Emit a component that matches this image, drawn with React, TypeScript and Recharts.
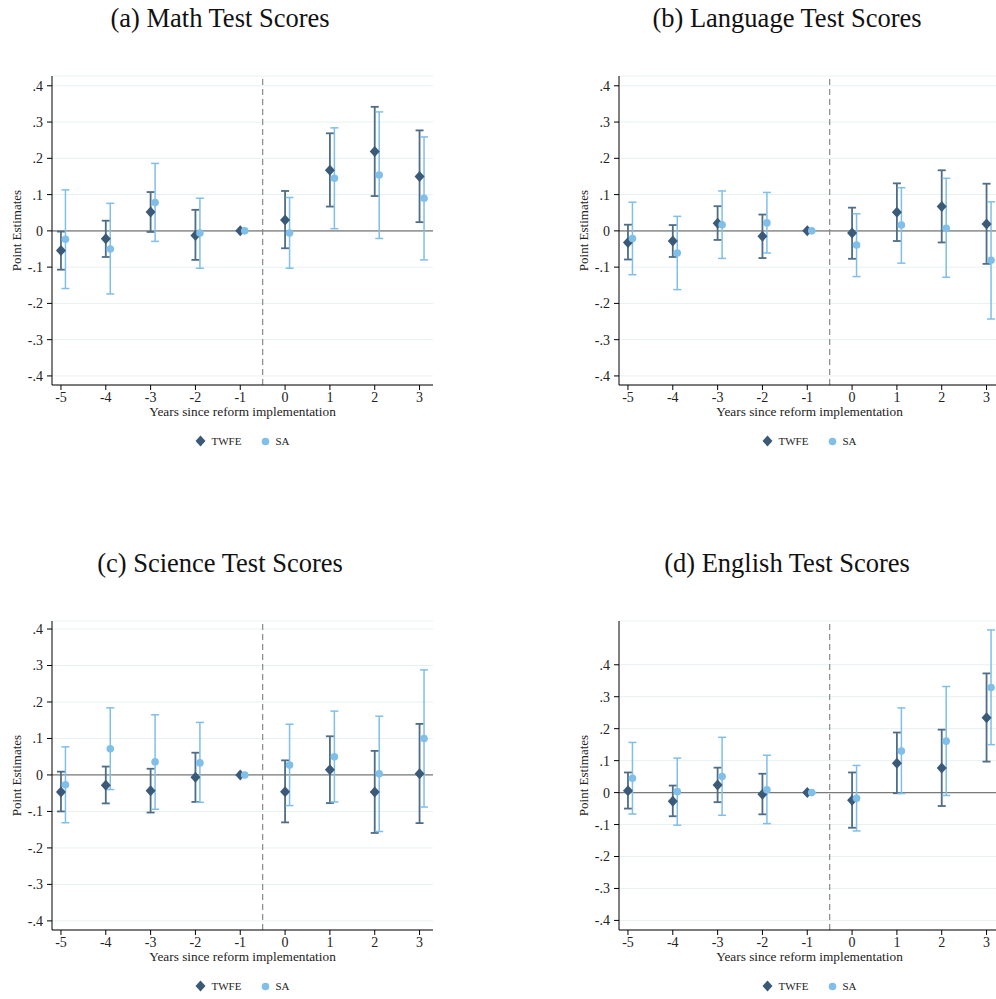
import React from "react";
import {
  ComposedChart,
  Scatter,
  ErrorBar,
  XAxis,
  YAxis,
  CartesianGrid,
  ReferenceLine,
  Legend,
} from "recharts";

// event-time years
const years = [-5, -4, -3, -2, -1, 0, 1, 2, 3];
const yTicks = [-0.4, -0.3, -0.2, -0.1, 0, 0.1, 0.2, 0.3, 0.4];

// (a) math
const mathTwfe = [-0.054, -0.022, 0.052, -0.013, 0, 0.03, 0.167, 0.219, 0.15];
const mathTwfeLo = [-0.107, -0.072, -0.003, -0.08, 0, -0.048, 0.067, 0.096, 0.024];
const mathTwfeHi = [-0.002, 0.028, 0.107, 0.058, 0, 0.11, 0.269, 0.342, 0.277];
const mathSa = [-0.023, -0.05, 0.078, -0.006, 0, -0.006, 0.145, 0.154, 0.09];
const mathSaLo = [-0.159, -0.174, -0.029, -0.103, 0, -0.103, 0.006, -0.021, -0.08];
const mathSaHi = [0.113, 0.076, 0.186, 0.09, 0, 0.092, 0.284, 0.328, 0.259];

// (b) language
const langTwfe = [-0.032, -0.028, 0.021, -0.015, 0, -0.006, 0.051, 0.067, 0.019];
const langTwfeLo = [-0.079, -0.072, -0.025, -0.075, 0, -0.077, -0.028, -0.032, -0.091];
const langTwfeHi = [0.017, 0.016, 0.068, 0.045, 0, 0.064, 0.131, 0.167, 0.13];
const langSa = [-0.021, -0.061, 0.017, 0.022, 0, -0.039, 0.016, 0.007, -0.081];
const langSaLo = [-0.121, -0.162, -0.076, -0.061, 0, -0.126, -0.089, -0.128, -0.243];
const langSaHi = [0.079, 0.04, 0.11, 0.106, 0, 0.047, 0.119, 0.145, 0.08];

// (c) science
const sciTwfe = [-0.047, -0.028, -0.043, -0.006, 0, -0.046, 0.014, -0.047, 0.003];
const sciTwfeLo = [-0.1, -0.078, -0.103, -0.074, 0, -0.13, -0.077, -0.159, -0.132];
const sciTwfeHi = [0.009, 0.023, 0.017, 0.061, 0, 0.04, 0.106, 0.066, 0.14];
const sciSa = [-0.027, 0.072, 0.036, 0.033, 0, 0.027, 0.05, 0.003, 0.1];
const sciSaLo = [-0.131, -0.04, -0.094, -0.075, 0, -0.084, -0.074, -0.155, -0.088];
const sciSaHi = [0.077, 0.184, 0.165, 0.144, 0, 0.139, 0.175, 0.161, 0.288];

// (d) english
const engTwfe = [0.006, -0.027, 0.024, -0.005, 0, -0.024, 0.092, 0.077, 0.234];
const engTwfeLo = [-0.05, -0.074, -0.03, -0.068, 0, -0.11, -0.002, -0.042, 0.097];
const engTwfeHi = [0.063, 0.022, 0.078, 0.059, 0, 0.063, 0.188, 0.197, 0.373];
const engSa = [0.045, 0.003, 0.05, 0.009, 0, -0.018, 0.13, 0.161, 0.329];
const engSaLo = [-0.067, -0.102, -0.071, -0.097, 0, -0.12, -0.003, -0.009, 0.15];
const engSaHi = [0.157, 0.108, 0.173, 0.117, 0, 0.085, 0.265, 0.332, 0.509];

const TWFE = "#3a5a78";
const TWFE_CI = "#4f6d86";
const SA = "#7fbfe9";
const FONT = '"Liberation Serif", "Times New Roman", serif';

const toRows = (est: number[], lo: number[], hi: number[], shift: number) =>
  years.map((yr, i) => ({
    x: yr + shift,
    y: est[i],
    err: [est[i] - lo[i], hi[i] - est[i]],
  }));

const Diamond = (props: any) => {
  const { cx, cy } = props;
  if (cx == null || cy == null) return null;
  return (
    <path
      d={`M${cx},${cy - 5.5} L${cx + 5},${cy} L${cx},${cy + 5.5} L${cx - 5},${cy} Z`}
      fill={TWFE}
    />
  );
};

const Dot = (props: any) => {
  const { cx, cy } = props;
  if (cx == null || cy == null) return null;
  return <circle cx={cx} cy={cy} r={3.8} fill={SA} />;
};

const fmtY = (v: number) => {
  if (Math.abs(v) < 1e-9) return "0";
  const s = v.toFixed(1);
  return s.replace("0.", ".");
};

const YLabel = (props: any) => {
  const vb = props.viewBox || {};
  const cx = 16;
  const cy = vb.y + vb.height / 2;
  return (
    <text
      x={cx}
      y={cy}
      transform={`rotate(-90 ${cx} ${cy})`}
      textAnchor="middle"
      dominantBaseline="central"
      fontSize={13}
      fontFamily={FONT}
      fill="#222"
    >
      Point Estimates
    </text>
  );
};

const LegendBox = () => (
  <div
    style={{
      display: "flex",
      justifyContent: "center",
      alignItems: "center",
      fontFamily: FONT,
      fontSize: 11,
      color: "#222",
    }}
  >
    <svg width={11} height={12} style={{ marginRight: 5 }}>
      <path d="M5.5,0.5 L10.5,6 L5.5,11.5 L0.5,6 Z" fill={TWFE} />
    </svg>
    <span style={{ marginRight: 20 }}>TWFE</span>
    <svg width={9} height={9} style={{ marginRight: 5 }}>
      <circle cx={4.5} cy={4.5} r={3.8} fill={SA} />
    </svg>
    <span>SA</span>
  </div>
);

interface PanelProps {
  title: string;
  left: number;
  top: number;
  twfe: number[];
  twfeLo: number[];
  twfeHi: number[];
  sa: number[];
  saLo: number[];
  saHi: number[];
  yDomain: [number, number];
  zeroColor: string;
  zeroWidth: number;
}

function Panel(p: PanelProps) {
  const twfeRows = toRows(p.twfe, p.twfeLo, p.twfeHi, 0);
  const saRows = toRows(p.sa, p.saLo, p.saHi, 0.1);
  return (
    <div style={{ position: "absolute", left: p.left, top: p.top, width: 440, height: 460 }}>
      <div
        style={{
          position: "absolute",
          left: 0,
          top: 2,
          width: 440,
          textAlign: "center",
          fontFamily: FONT,
          fontSize: 26.5,
          lineHeight: "32px",
          color: "#111",
        }}
      >
        {p.title}
      </div>
      <ComposedChart
        width={440}
        height={460}
        margin={{ top: 76, right: 7, left: 0, bottom: 0 }}
        style={{ position: "absolute", left: 0, top: 0 }}
      >
        <CartesianGrid vertical={false} stroke="#e8f0f2" strokeWidth={1} />
        <XAxis
          type="number"
          dataKey="x"
          domain={[-5.2, 3.3]}
          ticks={years}
          allowDataOverflow
          height={75}
          axisLine={{ stroke: "#000", strokeWidth: 1 }}
          tickLine={{ stroke: "#000" }}
          tickSize={5}
          tickMargin={2}
          tick={{ fontSize: 14, fontFamily: FONT, fill: "#222" }}
          label={{
            value: "Years since reform implementation",
            position: "insideTop",
            offset: 22,
            fontSize: 13.3,
            fontFamily: FONT,
            fill: "#222",
          }}
        />
        <YAxis
          type="number"
          dataKey="y"
          domain={p.yDomain}
          ticks={yTicks}
          allowDataOverflow
          width={52}
          interval={0}
          axisLine={{ stroke: "#000", strokeWidth: 1 }}
          tickLine={{ stroke: "#000" }}
          tickSize={5}
          tickMargin={4}
          tickFormatter={fmtY}
          tick={{ fontSize: 14, fontFamily: FONT, fill: "#222" }}
          label={<YLabel />}
        />
        <ReferenceLine y={0} stroke={p.zeroColor} strokeWidth={p.zeroWidth} />
        <ReferenceLine x={-0.5} stroke="#8a8a8a" strokeWidth={1.2} strokeDasharray="6 4" />
        <Scatter
          name="TWFE"
          data={twfeRows}
          shape={<Diamond />}
          isAnimationActive={false}
        >
          <ErrorBar
            dataKey="err"
            direction="y"
            width={4}
            stroke={TWFE_CI}
            strokeWidth={1.8}
            isAnimationActive={false}
          />
        </Scatter>
        <Scatter name="SA" data={saRows} shape={<Dot />} isAnimationActive={false}>
          <ErrorBar
            dataKey="err"
            direction="y"
            width={4}
            stroke={SA}
            strokeWidth={1.5}
            isAnimationActive={false}
          />
        </Scatter>
        <Legend
          verticalAlign="middle"
          align="center"
          content={<LegendBox />}
          wrapperStyle={{ position: "absolute", left: 52, top: 435, width: 381, height: 16 }}
        />
      </ComposedChart>
    </div>
  );
}

export default function App() {
  return (
    <div
      style={{
        position: "absolute",
        left: 0,
        top: 0,
        width: 996,
        height: 999,
        overflow: "hidden",
        background: "#fff",
      }}
    >
      <Panel
        title="(a) Math Test Scores"
        left={0}
        top={0}
        twfe={mathTwfe}
        twfeLo={mathTwfeLo}
        twfeHi={mathTwfeHi}
        sa={mathSa}
        saLo={mathSaLo}
        saHi={mathSaHi}
        yDomain={[-0.425, 0.427]}
        zeroColor="#9a9a9a"
        zeroWidth={1.6}
      />
      <Panel
        title="(b) Language Test Scores"
        left={567}
        top={0}
        twfe={langTwfe}
        twfeLo={langTwfeLo}
        twfeHi={langTwfeHi}
        sa={langSa}
        saLo={langSaLo}
        saHi={langSaHi}
        yDomain={[-0.425, 0.427]}
        zeroColor="#9a9a9a"
        zeroWidth={1.6}
      />
      <Panel
        title="(c) Science Test Scores"
        left={0}
        top={545}
        twfe={sciTwfe}
        twfeLo={sciTwfeLo}
        twfeHi={sciTwfeHi}
        sa={sciSa}
        saLo={sciSaLo}
        saHi={sciSaHi}
        yDomain={[-0.425, 0.422]}
        zeroColor="#7a7a7a"
        zeroWidth={1.2}
      />
      <Panel
        title="(d) English Test Scores"
        left={567}
        top={545}
        twfe={engTwfe}
        twfeLo={engTwfeLo}
        twfeHi={engTwfeHi}
        sa={engSa}
        saLo={engSaLo}
        saHi={engSaHi}
        yDomain={[-0.43, 0.537]}
        zeroColor="#7a7a7a"
        zeroWidth={1.2}
      />
    </div>
  );
}
